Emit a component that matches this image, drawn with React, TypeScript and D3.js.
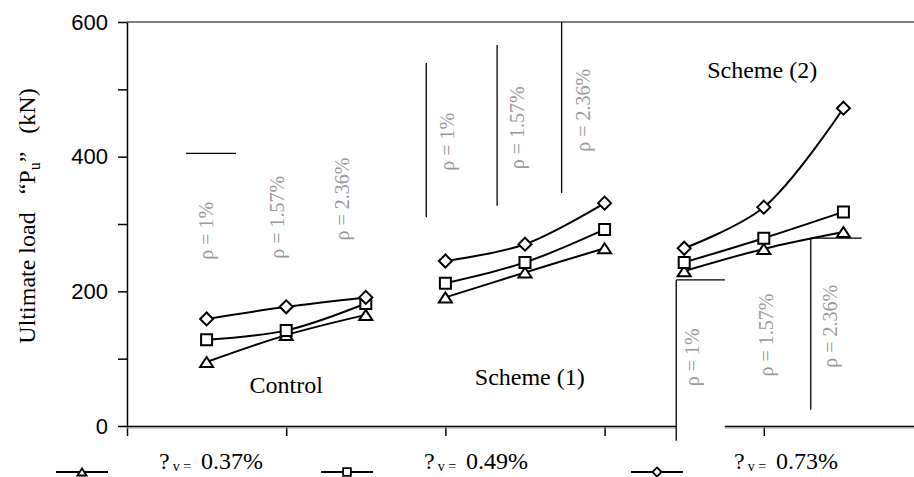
import React, { useEffect, useRef } from "react";
import * as d3 from "d3";

// x slots: 1-3 Control, 4-6 Scheme (1), 7-9 Scheme (2)
const slots = [1, 2, 3, 4, 5, 6, 7, 8, 9];
const groupNames = ["Control", "Scheme (1)", "Scheme (2)"];
const vRatio037 = [95, 135, 165, 191, 228, 264, 230, 263, 288];
const vRatio049 = [128, 142, 182, 212, 243, 292, 243, 279, 318];
const vRatio073 = [159, 177, 191, 245, 270, 331, 264, 325, 472];
const legendValues = ["0.37%", "0.49%", "0.73%"];
const steelLabels = ["ρ = 1%", "ρ = 1.57%", "ρ = 2.36%"];
const yTicks = [0, 100, 200, 300, 400, 500, 600];

const W = 914;
const H = 477;
const serif = "'Liberation Serif', 'Times New Roman', serif";

const markerPaths: Record<string, string> = {
  triangle: "M-6.5,5L0,-5L6.5,5Z",
  square: "M-5.5,-5.5H5.5V5.5H-5.5Z",
  diamond: "M0,-6.5L6.5,0L0,6.5L-6.5,0Z",
};

function App() {
  const svgRef = useRef<SVGSVGElement>(null);

  useEffect(() => {
    const svg = d3.select(svgRef.current);
    svg.selectAll("*").remove();

    const x = d3.scaleLinear().domain([0, 10]).range([127, 923]);
    const y = d3.scaleLinear().domain([0, 600]).range([426, 22]);

    // top frame line
    svg.append("line")
      .attr("x1", x(0)).attr("x2", W)
      .attr("y1", y(600)).attr("y2", y(600))
      .attr("stroke", "#808080").attr("stroke-width", 2);

    const yAxis = d3.axisLeft(y)
      .tickValues(yTicks)
      .tickSize(9)
      .tickSizeOuter(0)
      .tickPadding(10)
      .tickFormat((d: any) => (d % 200 === 0 ? String(d) : ""));
    const gy = svg.append("g").attr("transform", `translate(${x(0)},0)`).call(yAxis);
    gy.selectAll("text")
      .attr("font-family", "'Liberation Sans', Arial, sans-serif")
      .attr("font-size", 22)
      .attr("fill", "#000");
    gy.selectAll("line, path").attr("stroke", "#000").attr("stroke-width", 1.5);

    const xAxis = d3.axisBottom(x)
      .tickValues([0, 2, 4, 6, 8])
      .tickSize(10)
      .tickSizeOuter(0)
      .tickFormat(() => "");
    const gx = svg.append("g").attr("transform", `translate(0,${y(0)})`).call(xAxis);
    gx.selectAll("line, path").attr("stroke", "#000").attr("stroke-width", 1.5);
    svg.append("line")
      .attr("x1", x(0)).attr("x2", W)
      .attr("y1", y(0) + 2).attr("y2", y(0) + 2)
      .attr("stroke", "#9a9a9a").attr("stroke-width", 1);

    // y title
    const yt = svg.append("text")
      .attr("transform", `translate(35,216) rotate(-90)`)
      .attr("text-anchor", "middle")
      .attr("font-family", serif)
      .attr("font-size", 24)
      .style("white-space", "pre");
    yt.append("tspan").text("Ultimate load   \u201CP");
    yt.append("tspan").attr("font-size", 16).attr("dy", 5).text("u");
    yt.append("tspan").attr("dy", -5).text("\u201D   (kN)");

    // annotation: reinforcement ratio columns
    const segs: [number, number, number, number][] = [
      [0.74, 405, 1.37, 405],
      [3.76, 539, 3.76, 310],
      [4.65, 566, 4.65, 327],
      [5.46, 600, 5.46, 346],
      [8.59, 279, 8.59, 24],
      [8.59, 279, 9.23, 279],
    ];
    // white box cut over the axis for Scheme (2)
    svg.append("rect")
      .attr("x", x(6.9)).attr("y", y(217))
      .attr("width", x(7.51) - x(6.9)).attr("height", y(-22) - y(217))
      .attr("fill", "#fff");
    segs.push([6.9, 217, 6.9, -22], [6.9, 217, 7.51, 217]);
    svg.selectAll(".anno")
      .data(segs)
      .join("line")
      .attr("class", "anno")
      .attr("x1", (d) => x(d[0])).attr("y1", (d) => y(d[1]))
      .attr("x2", (d) => x(d[2])).attr("y2", (d) => y(d[3]))
      .attr("stroke", "#000").attr("stroke-width", 1.3);

    const labelPos: [number, number][] = [
      [0.99, 290], [1.88, 310], [2.7, 337],
      [4.02, 422], [4.9, 443], [5.73, 469],
      [7.1, 102], [8.03, 135], [8.83, 148],
    ];
    svg.selectAll(".ratio")
      .data(labelPos)
      .join("text")
      .attr("class", "ratio")
      .attr("transform", (d) => `translate(${x(d[0])},${y(d[1])}) rotate(-90)`)
      .attr("text-anchor", "middle")
      .attr("dominant-baseline", "central")
      .attr("font-family", serif)
      .attr("font-size", 20)
      .attr("fill", "#9a9a9a")
      .text((d, i) => steelLabels[i % 3]);

    // group labels
    const groupPos: [number, number][] = [[2.0, 49], [5.06, 61], [7.98, 517]];
    svg.selectAll(".group")
      .data(groupNames)
      .join("text")
      .attr("class", "group")
      .attr("x", (d, i) => x(groupPos[i][0]))
      .attr("y", (d, i) => y(groupPos[i][1]))
      .attr("text-anchor", "middle")
      .attr("font-family", serif)
      .attr("font-size", 24)
      .text((d) => d);

    // series
    const series = [
      { values: vRatio037, marker: "triangle" },
      { values: vRatio049, marker: "square" },
      { values: vRatio073, marker: "diamond" },
    ];
    const lineGen = d3.line<[number, number]>().curve(d3.curveCatmullRom);

    series.forEach((s) => {
      for (let g = 0; g < 3; g++) {
        const idx = [g * 3, g * 3 + 1, g * 3 + 2];
        const pts = idx.map((i) => [x(slots[i]), y(s.values[i])] as [number, number]);
        svg.append("path")
          .attr("d", lineGen(pts))
          .attr("fill", "none")
          .attr("stroke", "#000")
          .attr("stroke-width", 2);
      }
    });
    series.forEach((s) => {
      svg.selectAll(`.m-${s.marker}`)
        .data(s.values)
        .join("path")
        .attr("class", `m-${s.marker}`)
        .attr("d", markerPaths[s.marker])
        .attr("transform", (d, i) => `translate(${x(slots[i])},${y(d)})`)
        .attr("fill", "#fff")
        .attr("stroke", "#000")
        .attr("stroke-width", 2);
    });

    // legend
    const legendX = [56, 321, 631];
    const ly = 472;
    series.forEach((s, i) => {
      const g = svg.append("g").attr("transform", `translate(${legendX[i]},${ly})`);
      g.append("line").attr("x1", 0).attr("x2", 52).attr("stroke", "#000").attr("stroke-width", 2);
      g.append("path")
        .attr("d", markerPaths[s.marker])
        .attr("transform", "translate(26,0) scale(0.7)")
        .attr("fill", "#fff").attr("stroke", "#000").attr("stroke-width", 2.6);
      const t = g.append("text")
        .attr("x", 103).attr("y", -3)
        .attr("font-family", serif)
        .attr("font-size", 24);
      t.append("tspan").text("?");
      t.append("tspan").attr("font-size", 14).attr("dx", 3).attr("dy", 2).text("v =");
      t.append("tspan").attr("dx", 10).attr("dy", -2).text(legendValues[i]);
    });
  }, []);

  return (
    <svg
      ref={svgRef}
      width={W}
      height={H}
      style={{ position: "absolute", left: 0, top: 0, background: "#fff" }}
    />
  );
}

export default App;
